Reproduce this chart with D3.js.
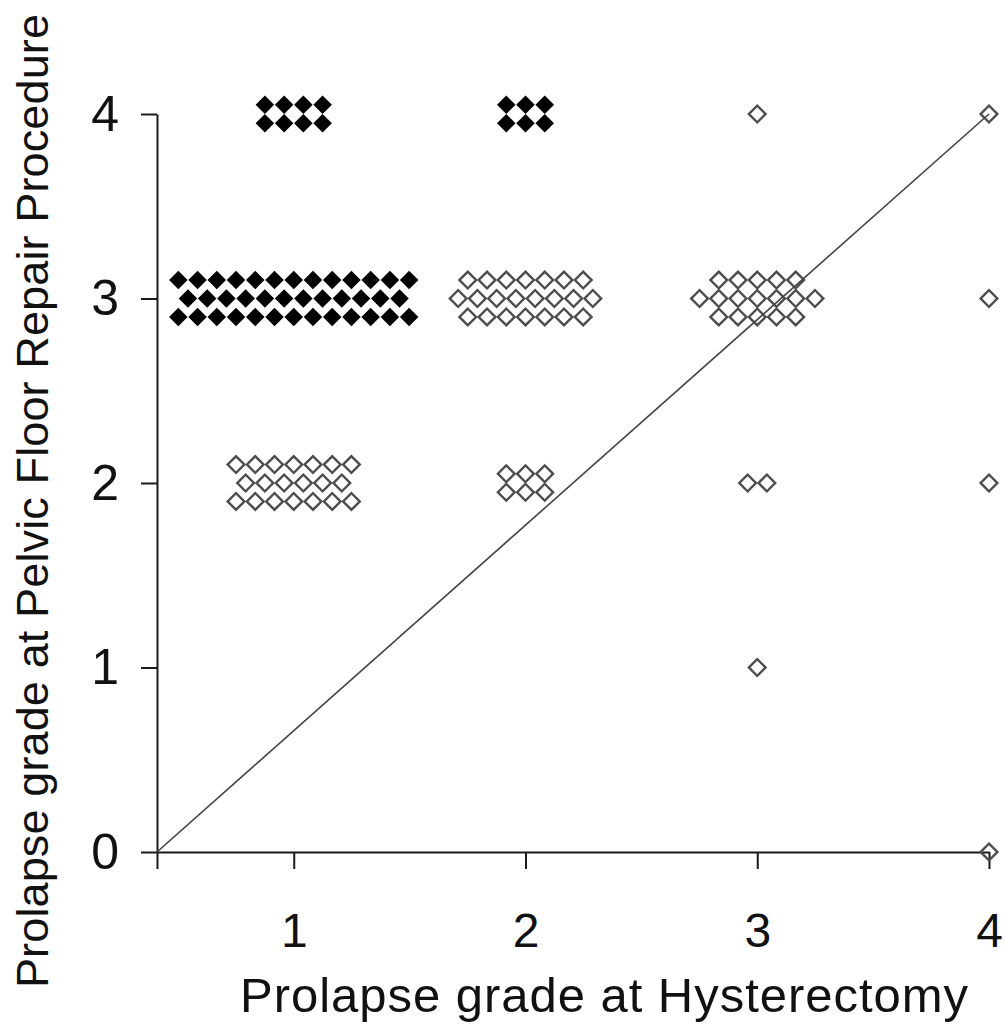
<!DOCTYPE html>
<html>
<head>
<meta charset="utf-8">
<script src="https://cdn.jsdelivr.net/npm/d3@7"></script>
<style>
  body { margin: 0; background: #fff; }
  svg { display: block; font-family: "Liberation Sans", Arial, sans-serif; }
</style>
</head>
<body>
<div class="canvas"></div>
<script>
// one entry per cluster of patients: grade at hysterectomy -> grade at pelvic floor repair
const hystGrade = [1, 1, 1, 2, 2, 2, 3, 3, 3, 3, 4, 4, 4, 4];
const pfrGrade  = [4, 3, 2, 4, 3, 2, 4, 3, 2, 1, 4, 3, 2, 0];
const filledMarker = [true, true, false, true, false, false, false, false, false, false, false, false, false, false];
// patients per displayed row inside each cluster (top row first)
const rowCounts = [[4, 4], [13, 12, 13], [7, 6, 7], [3, 3], [7, 8, 7], [3, 3], [1], [5, 7, 5], [2], [1], [1], [1], [1], [1]];

const xDomain = [0.41, 4];
const yDomain = [0, 4];
const xTicks = [1, 2, 3, 4];
const yTicks = [0, 1, 2, 3, 4];
const refLine = [[xDomain[0], 0], [4, 4]];

const dims = {width: 1005, height: 1027};
const xStep = 0.083, yStep = 0.1; // spread of markers inside a cluster

const svg = d3.select(".canvas").append("svg")
    .attr("width", dims.width)
    .attr("height", dims.height);

const x = d3.scaleLinear().domain(xDomain).range([157, 989]);
const y = d3.scaleLinear().domain(yDomain).range([852, 114]);

// expand clusters into single markers
const points = [];
hystGrade.forEach((h, i) => {
    const rows = rowCounts[i];
    rows.forEach((n, r) => {
        d3.range(n).forEach(k => {
            points.push({
                hx: h + (k - (n - 1) / 2) * xStep,
                py: pfrGrade[i] - (r - (rows.length - 1) / 2) * yStep,
                filled: filledMarker[i]
            });
        });
    });
});

// axes
const yAxis = d3.axisLeft(y)
    .tickValues(yTicks)
    .tickFormat(d3.format("d"))
    .tickSize(16)
    .tickSizeOuter(0)
    .tickPadding(22);

const xAxis = d3.axisBottom(x)
    .tickValues([xDomain[0], ...xTicks])
    .tickFormat(d => xTicks.includes(d) ? d : "")
    .tickSize(17)
    .tickSizeOuter(0)
    .tickPadding(44);

const gy = svg.append("g")
    .attr("transform", `translate(${x(xDomain[0])},0)`)
    .call(yAxis);
gy.selectAll("text").attr("font-size", 50).attr("fill", "#111").attr("font-family", null);

const gx = svg.append("g")
    .attr("transform", `translate(0,${y(0)})`)
    .call(xAxis);
gx.selectAll("text").attr("font-size", 48).attr("fill", "#111").attr("font-family", null);

svg.selectAll(".domain, .tick line")
    .attr("stroke", "#1a1a1a")
    .attr("stroke-width", 2);

// markers
const filledSym = d3.symbol(d3.symbolSquare, 172);
const openSym = d3.symbol(d3.symbolSquare, 140);

svg.append("g").selectAll("path")
    .data(points)
    .enter()
    .append("path")
    .attr("transform", d => `translate(${x(d.hx)},${y(d.py)}) rotate(45)`)
    .attr("d", d => d.filled ? filledSym() : openSym())
    .attr("fill", d => d.filled ? "#000" : "none")
    .attr("stroke", d => d.filled ? "none" : "#4d4d4d")
    .attr("stroke-width", 2.4);

// reference line
svg.append("path")
    .datum(refLine)
    .attr("d", d3.line().x(d => x(d[0])).y(d => y(d[1])))
    .attr("fill", "none")
    .attr("stroke", "#444")
    .attr("stroke-width", 1.6);

// axis titles
svg.append("text")
    .attr("x", 240)
    .attr("y", 1012)
    .attr("font-size", 49)
    .attr("textLength", 728)
    .attr("fill", "#111")
    .text("Prolapse grade at Hysterectomy");

svg.append("text")
    .attr("transform", "translate(48,988) rotate(-90)")
    .attr("font-size", 45)
    .attr("textLength", 974)
    .attr("fill", "#111")
    .text("Prolapse grade at Pelvic Floor Repair Procedure");
</script>
</body>
</html>
